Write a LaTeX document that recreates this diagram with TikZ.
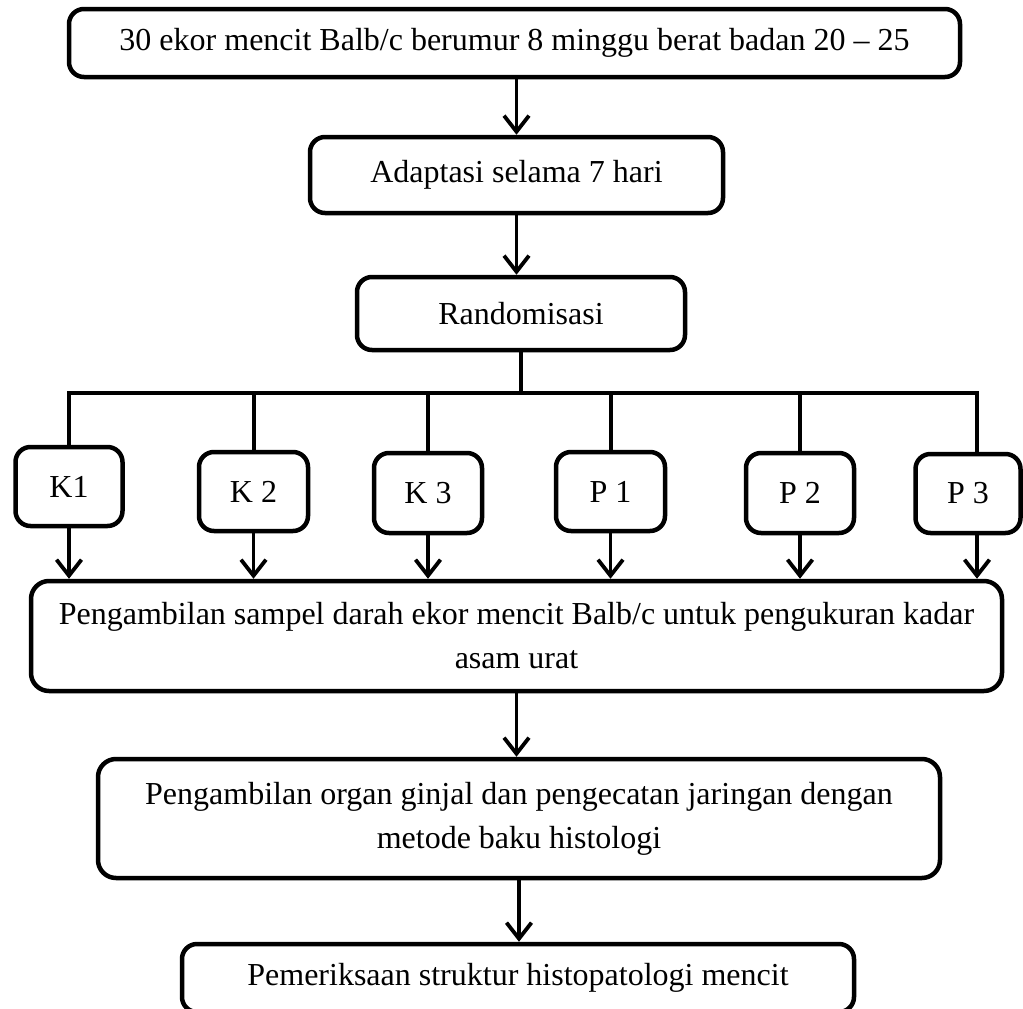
\documentclass[tikz,border=0pt]{standalone}
\usepackage{fontspec}
\setmainfont{Liberation Serif}
\usetikzlibrary{arrows.meta}
\tikzset{
  box/.style={draw=black, line width=4.5pt, rounded corners=15pt, fill=white,
    inner sep=0pt, align=center, font=\fontsize{32}{44}\selectfont},
  arr/.style={line width=3.8pt, -{Straight Barb[length=16pt,width=25pt,line width=3.8pt]}},
  conn/.style={line width=4pt, line join=miter},
}
\begin{document}
\begin{tikzpicture}[x=1pt,y=-1pt]
\path[use as bounding box, clip] (0,0) rectangle (1023,1009);
% main chain
\node[box, minimum width=891pt, minimum height=68pt] (top) at (514.5,43) {30 ekor mencit Balb/c berumur 8 minggu berat badan 20 – 25};
\node[box, minimum width=413pt, minimum height=76pt] (adapt) at (516.5,175) {Adaptasi selama 7 hari};
\node[box, minimum width=328pt, minimum height=73pt] (rand) at (521,313.5) {Randomisasi};
% groups
\node[box, minimum width=107pt, minimum height=79pt] (k1) at (69,486.5) {K1};
\node[box, minimum width=109pt, minimum height=79pt] (k2) at (253.5,491.5) {K 2};
\node[box, minimum width=108pt, minimum height=80pt] (k3) at (428,493) {K 3};
\node[box, minimum width=109pt, minimum height=79pt] (p1) at (610.5,491.5) {P 1};
\node[box, minimum width=108pt, minimum height=80pt] (p2) at (800,493) {P 2};
\node[box, minimum width=105pt, minimum height=79pt] (p3) at (968,493.5) {P 3};
% lower chain
\node[box, rounded corners=18pt, minimum width=971pt, minimum height=110pt] (blood) at (516.5,636) {Pengambilan sampel darah ekor mencit Balb/c untuk pengukuran kadar\\asam urat};
\node[box, rounded corners=18pt, minimum width=842pt, minimum height=119pt] (organ) at (519,818.5) {Pengambilan organ ginjal dan pengecatan jaringan dengan\\metode baku histologi};
\node[box, minimum width=672pt, minimum height=68pt] (exam) at (518,978) {Pemeriksaan struktur histopatologi mencit};
% bus coordinate
\coordinate (bus) at (520,393);
% connectors
\draw[arr] (adapt.north |- top.south) -- (adapt.north);
\draw[arr] (adapt.south) -- (adapt.south |- rand.north);
\draw[conn] (rand.south) -- (rand.south |- bus);
\draw[conn] (k1.north) -- (k1.north |- bus) -- ([xshift=9pt]p3.north |- bus) -- ([xshift=9pt]p3.north);
\foreach \n in {k2,k3,p1,p2}{
  \draw[conn] (\n.north) -- (\n.north |- bus);
}
\foreach \n in {k1,k2,k3,p1,p2}{
  \draw[arr] (\n.south) -- (\n.south |- blood.north);
}
\draw[arr] ([xshift=9pt]p3.south) -- ([xshift=9pt]p3.south |- blood.north);
\draw[arr] (blood.south) -- (blood.south |- organ.north);
\draw[arr] (organ.south) -- (organ.south |- exam.north);
\end{tikzpicture}
\end{document}
